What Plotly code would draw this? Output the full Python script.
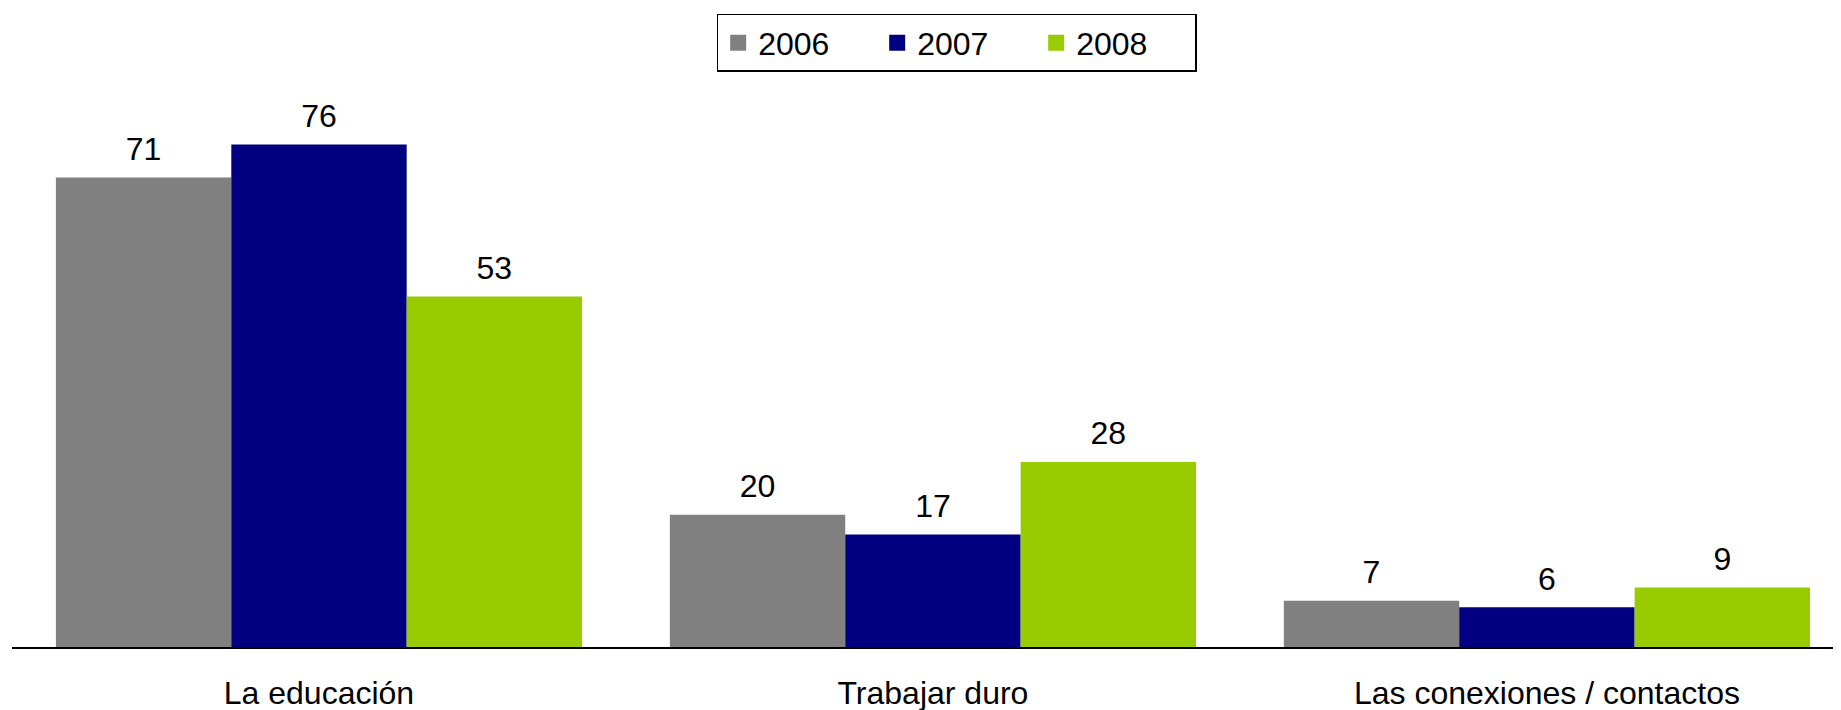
import plotly.graph_objects as go

categories = ["La educación", "Trabajar duro", "Las conexiones / contactos"]
years = ["2006", "2007", "2008"]
values_2006 = [71, 20, 7]
values_2007 = [76, 17, 6]
values_2008 = [53, 28, 9]
colors = ["#808080", "#000080", "#99CC00"]

series = [values_2006, values_2007, values_2008]
FS = 32
GAP = 0.143

fig = go.Figure()
for name, vals, col in zip(years, series, colors):
    fig.add_trace(go.Bar(
        x=categories, y=vals, name=name, offsetgroup=name,
        marker=dict(color=col, line=dict(width=0)),
        showlegend=False,
    ))
# value labels, aligned with the grouped bars
for name, vals in zip(years, series):
    fig.add_trace(go.Scatter(
        x=categories, y=vals, offsetgroup=name, mode="markers+text",
        marker=dict(size=14, opacity=0),
        text=[str(v) for v in vals], textposition="top center",
        textfont=dict(size=FS, color="black"),
        showlegend=False, hoverinfo="skip", cliponaxis=False,
    ))
# legend entries
for name, col in zip(years, colors):
    fig.add_trace(go.Scatter(
        x=[None], y=[None], name=name, offsetgroup=name, mode="markers",
        marker=dict(symbol="square", size=16, color=col),
        showlegend=True,
    ))

fig.update_layout(
    width=1833, height=702,
    margin=dict(l=4, r=0, t=44, b=63, autoexpand=False),
    paper_bgcolor="white", plot_bgcolor="white",
    font=dict(family="Liberation Sans, Arial, sans-serif", size=FS, color="black"),
    barmode="group", bargap=GAP, bargroupgap=0,
    scattermode="group", scattergap=GAP,
    showlegend=True,
    legend=dict(
        orientation="h", xanchor="center", x=0.5165, yanchor="top", y=1.064,
        bordercolor="black", borderwidth=1.5, font=dict(size=FS),
        entrywidth=114, traceorder="normal", itemsizing="trace",
    ),
    xaxis=dict(
        showline=True, linecolor="black", linewidth=2, ticks="",
        range=[-0.5, 2.479], showgrid=False, zeroline=False,
        tickfont=dict(size=FS, color="black"), ticklabelstandoff=17,
    ),
    yaxis=dict(visible=False, range=[0, 90], showgrid=False, zeroline=False),
)

fig.write_html("out.html")
